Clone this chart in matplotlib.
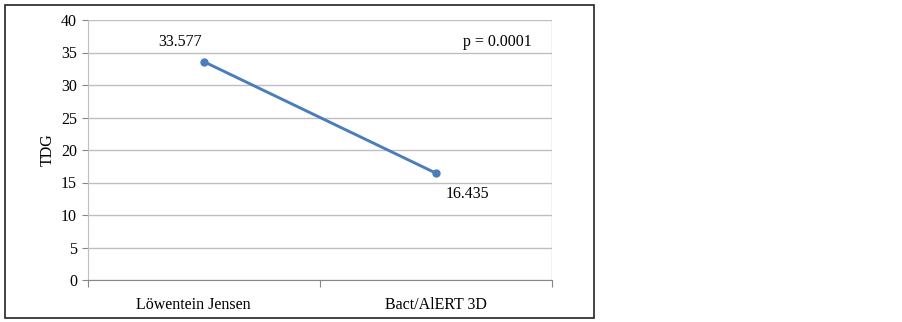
import matplotlib
matplotlib.use("Agg")
import matplotlib.pyplot as plt
from matplotlib.patches import Rectangle
from matplotlib.transforms import ScaledTranslation

categories = ["Löwentein Jensen", "Bact/AlERT 3D"]
values = [33.577, 16.435]
value_labels = ["33.577", "16.435"]
y_ticks = [0, 5, 10, 15, 20, 25, 30, 35, 40]
p_text = "p = 0.0001"
y_label = "TDG"

plt.rcParams['font.family'] = ['Liberation Serif', 'DejaVu Serif']
FS = 11.5

W, H = 903, 322
fig = plt.figure(figsize=(W / 100, H / 100), dpi=100)
fig.patch.set_facecolor("white")

# outer frame
fig.patches.append(Rectangle((5 / W, 1 - 318 / H), (594 - 5) / W, (318 - 5) / H,
                             transform=fig.transFigure, fill=False,
                             edgecolor="#222222", linewidth=1.2))

ax = fig.add_axes([88 / W, 1 - 280 / H, (552 - 88) / W, (280 - 20) / H])
x = [0.5, 1.5]
ax.plot(x, values, color="#4A7EBB", linewidth=2.1, marker="o", markersize=5,
        markerfacecolor="#4A7EBB", markeredgecolor="#4A7EBB", zorder=3)

ax.set_xlim(0, 2)
ax.set_ylim(0, 40)
ax.set_yticks(y_ticks)
ax.set_yticklabels([str(t) for t in y_ticks], fontsize=FS)
ax.yaxis.grid(True, color="#BFBFBF", linewidth=1)
ax.set_axisbelow(True)

ax.set_xticks([0, 1, 2])
ax.set_xticklabels([])
ax.set_xticks(x, minor=True)
ax.set_xticklabels(categories, minor=True, fontsize=FS)
ax.tick_params(axis='x', which='minor', length=0, pad=12)
ax.tick_params(axis='x', which='major', length=5, direction='out', color="#878787")
ax.tick_params(axis='y', length=4, direction='out', color="#878787", pad=4)

# shift first category label slightly left, as in the reference
lbl0 = ax.get_xticklabels(minor=True)[0]
lbl0.set_transform(lbl0.get_transform() + ScaledTranslation(-11 / 100, 0, fig.dpi_scale_trans))

ax.spines["top"].set_visible(False)
ax.spines["right"].set_visible(False)
ax.spines["left"].set_color("#BFBFBF")
ax.spines["bottom"].set_color("#878787")

ax.set_ylabel(y_label, fontsize=FS, labelpad=4)

ax.annotate(value_labels[0], (x[0], values[0]), xytext=(-17, 14),
            textcoords="offset points", fontsize=FS, ha="center", va="center")
ax.annotate(value_labels[1], (x[1], values[1]), xytext=(23, -15),
            textcoords="offset points", fontsize=FS, ha="center", va="center")
fig.text(497 / W, 1 - 42 / H, p_text, fontsize=FS, ha="center", va="center")

# right-side vertical line at plot edge (gray)
ax.axvline(2, color="#BFBFBF", linewidth=1)

fig.savefig("out.png", dpi=100)
